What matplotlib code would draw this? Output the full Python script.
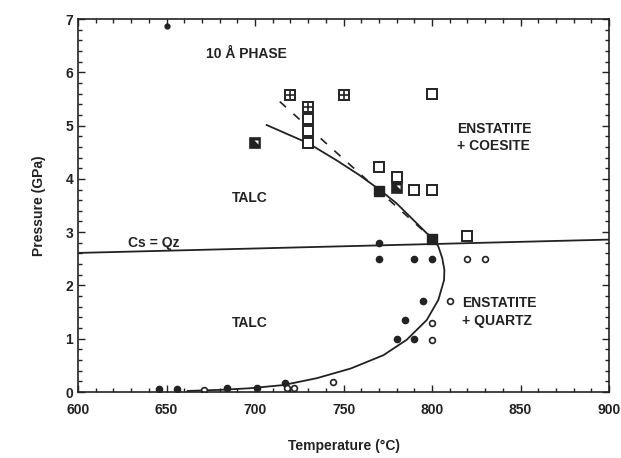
import matplotlib
matplotlib.use("Agg")
import matplotlib.pyplot as plt
from matplotlib.ticker import MultipleLocator

plt.rcParams['font.family'] = ['Liberation Sans', 'DejaVu Sans']
plt.rcParams['font.weight'] = 'bold'

# --- data ---
open_sq_T = [800, 730, 730, 730, 770, 780, 790, 800, 820]
open_sq_P = [5.6, 5.12, 4.9, 4.67, 4.22, 4.03, 3.8, 3.8, 2.93]
cross_sq_T = [720, 750, 730]
cross_sq_P = [5.58, 5.58, 5.35]
half_sq_T = [700, 780]
half_sq_P = [4.67, 3.83]
fill_sq_T = [770, 800]
fill_sq_P = [3.78, 2.88]
fill_c_T = [770, 770, 790, 800, 795, 785, 780, 790, 717, 701, 684, 656, 646]
fill_c_P = [2.8, 2.5, 2.5, 2.5, 1.7, 1.35, 1.0, 1.0, 0.17, 0.08, 0.08, 0.05, 0.05]
top_mark_T = [650]
top_mark_P = [6.86]
open_c_T = [820, 830, 810, 800, 800, 718, 722, 744, 671]
open_c_P = [2.5, 2.5, 1.7, 1.3, 0.98, 0.08, 0.08, 0.18, 0.03]

# Cs = Qz line
csqz_T = [600, 900]
csqz_P = [2.61, 2.86]

# talc breakdown curve (lower, solid)
low_T = [662, 680, 697, 716, 735, 754, 772.5, 785.7, 797, 803.6, 806.8, 807, 805.8, 803.6, 800.7]
low_P = [0.02, 0.04, 0.07, 0.13, 0.26, 0.44, 0.69, 0.98, 1.35, 1.73, 2.1, 2.29, 2.51, 2.73, 2.88]
# upper solid curve
up_T = [706.6, 730, 746, 759, 770.6, 780, 789.4, 797, 800.7]
up_P = [5.01, 4.67, 4.35, 4.07, 3.79, 3.54, 3.23, 2.98, 2.88]
# dashed line
dash_T = [714, 800]
dash_P = [5.45, 2.88]

fig = plt.figure(figsize=(6.21, 4.58), dpi=100)
ax = fig.add_axes([0.1256, 0.1441, 0.8551, 0.8144])
ink = '#222222'

ax.plot(csqz_T, csqz_P, color=ink, lw=1.3)
ax.plot(low_T, low_P, color=ink, lw=1.3)
ax.plot(up_T, up_P, color=ink, lw=1.3)
ax.plot(dash_T, dash_P, color=ink, lw=1.2, linestyle=(0, (5, 6)))

ax.plot(open_sq_T, open_sq_P, 's', ms=6.5, mfc='white', mec=ink, mew=1.4, ls='none')
ax.plot(cross_sq_T, cross_sq_P, 's', ms=6.5, mfc='white', mec=ink, mew=1.4, ls='none')
ax.plot(cross_sq_T, cross_sq_P, '+', ms=6.0, mec=ink, mew=1.2, ls='none')
ax.plot(half_sq_T, half_sq_P, 's', ms=6.5, mfc=ink, mec=ink, mew=1.2, ls='none')
tri = [(-0.3, 1), (1, 1), (1, -0.3)]
ax.plot(half_sq_T, half_sq_P, marker=tri, ms=4.0, mfc='white', mec='none', ls='none')
ax.plot(fill_sq_T, fill_sq_P, 's', ms=7, mfc=ink, mec=ink, ls='none')
ax.plot(fill_c_T, fill_c_P, 'o', ms=4.5, mfc=ink, mec=ink, ls='none')
ax.plot(top_mark_T, top_mark_P, 'o', ms=3.5, mfc=ink, mec=ink, ls='none')
ax.plot(open_c_T, open_c_P, 'o', ms=4.2, mfc='white', mec=ink, mew=1.2, ls='none')

fs = 10
ax.text(695, 6.34, '10 Å PHASE', ha='center', va='center', fontsize=fs, fontweight='bold', color=ink)
ax.text(814, 4.77, 'ENSTATITE\n+ COESITE', ha='left', va='center', fontsize=fs, fontweight='bold', color=ink, linespacing=1.3)
ax.text(697, 3.64, 'TALC', ha='center', va='center', fontsize=fs, fontweight='bold', color=ink)
ax.text(643, 2.8, 'Cs = Qz', ha='center', va='center', fontsize=fs, fontweight='bold', color=ink)
ax.text(697, 1.29, 'TALC', ha='center', va='center', fontsize=fs, fontweight='bold', color=ink)
ax.text(817, 1.5, 'ENSTATITE\n+ QUARTZ', ha='left', va='center', fontsize=fs, fontweight='bold', color=ink, linespacing=1.3)

ax.set_xlim(600, 900)
ax.set_ylim(0, 7)
ax.xaxis.set_major_locator(MultipleLocator(50))
ax.xaxis.set_minor_locator(MultipleLocator(10))
ax.yaxis.set_major_locator(MultipleLocator(1))
ax.yaxis.set_minor_locator(MultipleLocator(0.2))
ax.tick_params(which='both', direction='in', top=True, right=True, colors=ink, labelsize=10, width=1)
ax.tick_params(which='major', length=5)
ax.tick_params(which='minor', length=3)
ax.tick_params(axis='x', which='major', pad=8)
for lab in ax.get_xticklabels() + ax.get_yticklabels():
    lab.set_fontweight('bold')
for s in ax.spines.values():
    s.set_color(ink)
    s.set_linewidth(1.2)

ax.set_xlabel('Temperature (°C)', fontsize=10, fontweight='bold', color=ink, labelpad=16)
ax.set_ylabel('Pressure (GPa)', fontsize=10, fontweight='bold', color=ink, labelpad=14)

fig.savefig('out.png', dpi=100)
